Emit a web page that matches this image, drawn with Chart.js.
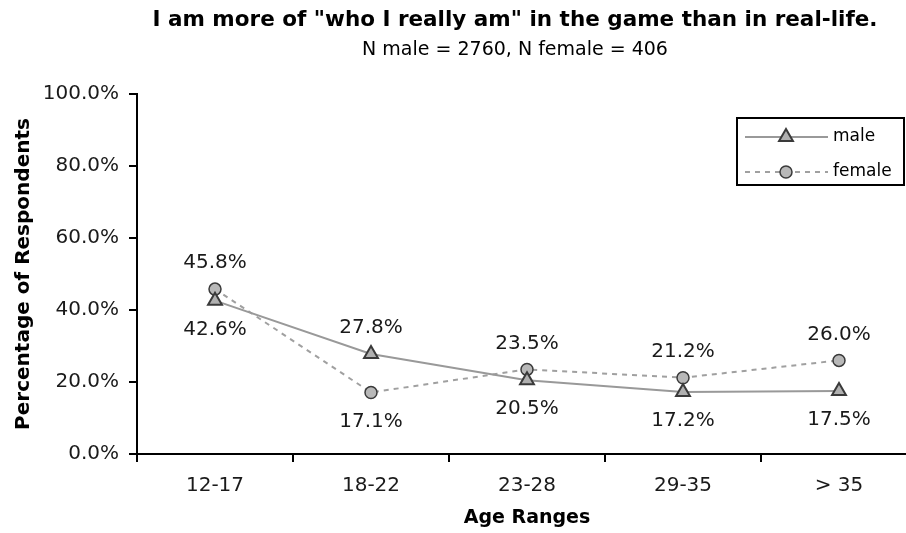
<!DOCTYPE html>
<html>
<head>
<meta charset="utf-8">
<script src="https://cdn.jsdelivr.net/npm/chart.js@4.4.0/dist/chart.umd.min.js"></script>
<style>
  html, body { margin: 0; padding: 0; background: #fff; overflow: hidden; }
  #wrap { width: 1030px; height: 533px; }
</style>
</head>
<body>
<div id="wrap"><canvas id="myChart" width="1030" height="533"></canvas></div>
<script>
var ageRanges = ['12-17', '18-22', '23-28', '29-35', '> 35'];
var malePct = [42.6, 27.8, 20.5, 17.2, 17.5];
var femalePct = [45.8, 17.1, 23.5, 21.2, 26.0];
var yTicks = [0, 20, 40, 60, 80, 100];

var chartTitle = 'I am more of "who I really am" in the game than in real-life.';
var chartSubtitle = 'N male = 2760, N female = 406';

var FONT = "'DejaVu Sans', sans-serif";

// title + subtitle, centred on the canvas
var titlePlugin = {
    id: 'titles',
    afterDraw: function(chart) {
        var c = chart.ctx;
        c.save();
        c.fillStyle = '#000';
        c.textAlign = 'center';
        c.textBaseline = 'middle';
        c.font = 'bold 21.5px ' + FONT;
        c.fillText(chartTitle, chart.width / 2, 20);
        c.font = '19px ' + FONT;
        c.fillText(chartSubtitle, chart.width / 2, 50);
        c.restore();
    }
};

// value labels: whichever series is lower gets its label underneath
var labelPlugin = {
    id: 'valueLabels',
    afterDatasetsDraw: function(chart) {
        var c = chart.ctx;
        c.save();
        c.font = '20px ' + FONT;
        c.fillStyle = '#1a1a1a';
        c.textAlign = 'center';
        c.textBaseline = 'middle';
        chart.data.datasets.forEach(function(ds, i) {
            var other = chart.data.datasets[1 - i].data;
            chart.getDatasetMeta(i).data.forEach(function(pt, j) {
                var below = ds.data[j] < other[j];
                var y = below ? pt.y + 29 : pt.y - 26;
                c.fillText(ds.data[j].toFixed(1) + '%', pt.x, y);
            });
        });
        c.restore();
    }
};

// boxed legend in the top right of the plot
var legendPlugin = {
    id: 'boxLegend',
    afterDraw: function(chart) {
        var c = chart.ctx;
        var area = chart.chartArea;
        var x0 = area.right - 180, y0 = area.top + 24, w = 167, h = 67;
        c.save();
        c.fillStyle = '#fff';
        c.fillRect(x0, y0, w, h);
        c.strokeStyle = '#000';
        c.lineWidth = 2;
        c.strokeRect(x0, y0, w, h);
        c.font = '17px ' + FONT;
        c.textBaseline = 'middle';
        chart.data.datasets.forEach(function(ds, i) {
            var y = y0 + 19 + i * 35;
            var mx = x0 + 49;
            c.strokeStyle = ds.borderColor;
            c.lineWidth = ds.borderWidth;
            c.setLineDash(ds.borderDash || []);
            c.beginPath();
            c.moveTo(x0 + 8, y);
            c.lineTo(x0 + 91, y);
            c.stroke();
            c.setLineDash([]);
            c.fillStyle = ds.pointBackgroundColor;
            c.strokeStyle = ds.pointBorderColor;
            c.lineWidth = ds.pointBorderWidth;
            Chart.helpers.drawPoint(c, {
                pointStyle: ds.pointStyle,
                radius: ds.pointRadius,
                borderWidth: ds.pointBorderWidth
            }, mx, y);
            c.fillStyle = '#000';
            c.fillText(ds.label, x0 + 96, y);
        });
        c.restore();
    }
};

var ctx = document.getElementById('myChart').getContext('2d');
var chart = new Chart(ctx, {
    type: 'line',
    data: {
        labels: ageRanges,
        datasets: [{
            label: 'male',
            data: malePct,
            borderColor: '#999999',
            borderWidth: 2,
            pointStyle: 'triangle',
            pointRadius: 8,
            pointBackgroundColor: '#b0b0b0',
            pointBorderColor: '#3a3a3a',
            pointBorderWidth: 2
        }, {
            label: 'female',
            data: femalePct,
            borderColor: '#a0a0a0',
            borderWidth: 2,
            borderDash: [5, 5],
            pointStyle: 'circle',
            pointRadius: 6,
            pointBackgroundColor: '#b8b8b8',
            pointBorderColor: '#3a3a3a',
            pointBorderWidth: 1.5
        }]
    },
    plugins: [titlePlugin, labelPlugin, legendPlugin],
    options: {
        responsive: false,
        animation: false,
        layout: { padding: { top: 94, right: 113, left: 0, bottom: 0 } },
        plugins: {
            legend: { display: false },
            title: { display: false },
            tooltip: { enabled: false }
        },
        scales: {
            x: {
                offset: true,
                grid: {
                    offset: true,
                    drawOnChartArea: false,
                    color: '#000',
                    lineWidth: 2,
                    tickLength: 8
                },
                border: { color: '#000', width: 2 },
                ticks: {
                    color: '#1a1a1a',
                    font: { family: FONT, size: 20 },
                    padding: 12,
                    maxRotation: 0
                },
                title: {
                    display: true,
                    text: 'Age Ranges',
                    color: '#000',
                    font: { family: FONT, size: 19, weight: 'bold' },
                    padding: { top: 4 }
                },
                afterFit: function(scale) { scale.height = 79; }
            },
            y: {
                min: 0,
                max: 100,
                afterBuildTicks: function(scale) {
                    scale.ticks = yTicks.map(function(v) { return { value: v }; });
                },
                grid: {
                    drawOnChartArea: false,
                    color: '#000',
                    lineWidth: 2,
                    tickLength: 8
                },
                border: { color: '#000', width: 2 },
                ticks: {
                    color: '#1a1a1a',
                    font: { family: FONT, size: 20 },
                    padding: 10,
                    callback: function(v) { return v.toFixed(1) + '%'; }
                },
                title: {
                    display: true,
                    text: 'Percentage of Respondents',
                    color: '#000',
                    font: { family: FONT, size: 20, weight: 'bold' },
                    padding: { top: 12, bottom: 4 }
                },
                afterFit: function(scale) { scale.width = 137; }
            }
        }
    }
});
</script>
</body>
</html>
